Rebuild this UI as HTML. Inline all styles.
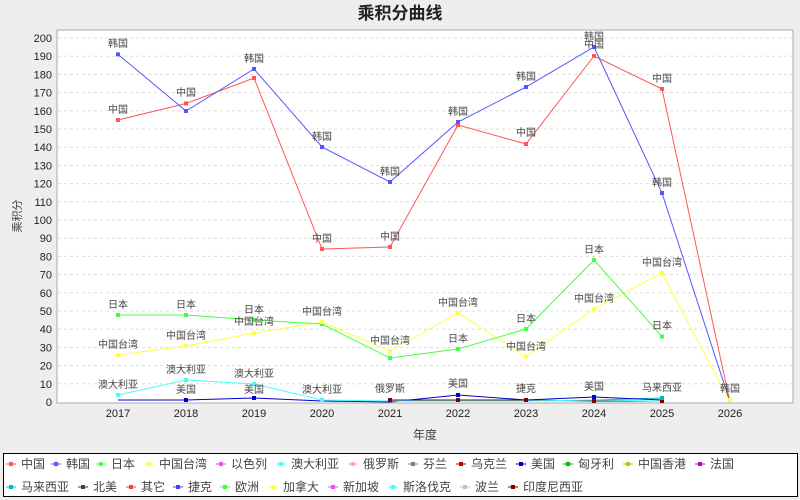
<!DOCTYPE html>
<html><head><meta charset="utf-8"><style>
body{margin:0;background:#eeeeee;}
svg{display:block;font-family:"Liberation Sans","Noto Sans CJK SC",sans-serif;}
</style></head><body>
<svg width="800" height="500" viewBox="0 0 800 500">
<rect width="800" height="500" fill="#eeeeee"/>
<text x="400" y="19" text-anchor="middle" font-size="17" font-weight="bold" fill="#222">乘积分曲线</text>
<rect x="57" y="30" width="736" height="373" fill="#fff" stroke="#aaa"/>
<g stroke="#dddddd" stroke-dasharray="3,3">
<line x1="58" x2="792" y1="383.8" y2="383.8"/><line x1="58" x2="792" y1="365.6" y2="365.6"/><line x1="58" x2="792" y1="347.4" y2="347.4"/><line x1="58" x2="792" y1="329.2" y2="329.2"/><line x1="58" x2="792" y1="311" y2="311"/><line x1="58" x2="792" y1="292.8" y2="292.8"/><line x1="58" x2="792" y1="274.6" y2="274.6"/><line x1="58" x2="792" y1="256.4" y2="256.4"/><line x1="58" x2="792" y1="238.2" y2="238.2"/><line x1="58" x2="792" y1="220" y2="220"/><line x1="58" x2="792" y1="201.8" y2="201.8"/><line x1="58" x2="792" y1="183.6" y2="183.6"/><line x1="58" x2="792" y1="165.4" y2="165.4"/><line x1="58" x2="792" y1="147.2" y2="147.2"/><line x1="58" x2="792" y1="129" y2="129"/><line x1="58" x2="792" y1="110.8" y2="110.8"/><line x1="58" x2="792" y1="92.6" y2="92.6"/><line x1="58" x2="792" y1="74.4" y2="74.4"/><line x1="58" x2="792" y1="56.2" y2="56.2"/><line x1="58" x2="792" y1="38" y2="38"/>
</g>
<g font-size="11" fill="#222" text-anchor="end">
<text x="52" y="406">0</text><text x="52" y="388">10</text><text x="52" y="369.5">20</text><text x="52" y="351.5">30</text><text x="52" y="333">40</text><text x="52" y="315">50</text><text x="52" y="297">60</text><text x="52" y="278.5">70</text><text x="52" y="260.5">80</text><text x="52" y="242">90</text><text x="52" y="224">100</text><text x="52" y="206">110</text><text x="52" y="187.5">120</text><text x="52" y="169.5">130</text><text x="52" y="151">140</text><text x="52" y="133">150</text><text x="52" y="115">160</text><text x="52" y="96.5">170</text><text x="52" y="78.5">180</text><text x="52" y="60">190</text><text x="52" y="42">200</text>
</g>
<g font-size="11" fill="#222" text-anchor="middle">
<text x="118" y="417">2017</text><text x="186" y="417">2018</text><text x="254" y="417">2019</text><text x="322" y="417">2020</text><text x="390" y="417">2021</text><text x="458" y="417">2022</text><text x="526" y="417">2023</text><text x="594" y="417">2024</text><text x="662" y="417">2025</text><text x="730" y="417">2026</text>
</g>
<text x="425" y="439" text-anchor="middle" font-size="12" fill="#444">年度</text>
<text transform="translate(21,216) rotate(-90)" text-anchor="middle" font-size="11" fill="#444">乘积分</text>
<g fill="none" stroke-width="1">
<polyline stroke="#800000" points="390,400 458,400 526,400 594,401 662,401"/>
<polyline stroke="#00bbbb" points="594,400 662,398"/>
<polyline stroke="#0000cc" points="118,400 186,400 254,398 322,401 390,402 458,395 526,400 594,397 662,400"/>
<polyline stroke="#44ffff" points="118,395 186,380 254,384 322,400 390,401 458,401 526,401 594,400 662,401"/>
<polyline stroke="#ffff44" points="118,355 186,346 254,333 322,322 390,351 458,313 526,356.5 594,309 662,273 730,402"/>
<polyline stroke="#44ff44" points="118,315 186,315 254,320 322,324 390,358 458,349 526,329 594,260 662,336.5"/>
<polyline stroke="#ff5555" points="118,120 186,103.5 254,78 322,249 390,247 458,125 526,144 594,56 662,89 730,402"/>
<polyline stroke="#5555ff" points="118,54.4 186,111 254,69 322,147 390,182 458,122 526,87 594,47 662,193 730,402"/>
</g>
<g fill="#ff5555"><rect x="116" y="118" width="4" height="4"/><rect x="184" y="101.5" width="4" height="4"/><rect x="252" y="76" width="4" height="4"/><rect x="320" y="247" width="4" height="4"/><rect x="388" y="245" width="4" height="4"/><rect x="456" y="123" width="4" height="4"/><rect x="524" y="142" width="4" height="4"/><rect x="592" y="54" width="4" height="4"/><rect x="660" y="87" width="4" height="4"/></g>
<g fill="#5555ff"><rect x="116" y="52.4" width="4" height="4"/><rect x="184" y="109" width="4" height="4"/><rect x="252" y="67" width="4" height="4"/><rect x="320" y="145" width="4" height="4"/><rect x="388" y="180" width="4" height="4"/><rect x="456" y="120" width="4" height="4"/><rect x="524" y="85" width="4" height="4"/><rect x="592" y="45" width="4" height="4"/><rect x="660" y="191" width="4" height="4"/></g>
<g fill="#44ff44"><rect x="116" y="313" width="4" height="4"/><rect x="184" y="313" width="4" height="4"/><rect x="252" y="318" width="4" height="4"/><rect x="320" y="322" width="4" height="4"/><rect x="388" y="356" width="4" height="4"/><rect x="456" y="347" width="4" height="4"/><rect x="524" y="327" width="4" height="4"/><rect x="592" y="258" width="4" height="4"/><rect x="660" y="334.5" width="4" height="4"/></g>
<g fill="#ffff44"><rect x="116" y="353" width="4" height="4"/><rect x="184" y="344" width="4" height="4"/><rect x="252" y="331" width="4" height="4"/><rect x="320" y="320" width="4" height="4"/><rect x="388" y="349" width="4" height="4"/><rect x="456" y="311" width="4" height="4"/><rect x="524" y="354.5" width="4" height="4"/><rect x="592" y="307" width="4" height="4"/><rect x="660" y="271" width="4" height="4"/><rect x="728" y="398" width="4" height="4"/></g>
<g fill="#44ffff"><rect x="116" y="393" width="4" height="4"/><rect x="184" y="378" width="4" height="4"/><rect x="252" y="382" width="4" height="4"/><rect x="320" y="398" width="4" height="4"/></g>
<g fill="#0000cc"><rect x="184" y="398" width="4" height="4"/><rect x="252" y="396" width="4" height="4"/><rect x="456" y="393" width="4" height="4"/><rect x="592" y="395" width="4" height="4"/></g>
<g fill="#800000"><rect x="388" y="398" width="4" height="4"/><rect x="456" y="398" width="4" height="4"/><rect x="524" y="398" width="4" height="4"/><rect x="592" y="399" width="4" height="4"/><rect x="660" y="399" width="4" height="4"/></g>
<rect x="660" y="396" width="4" height="4" fill="#00bbbb"/>
<g font-size="10" fill="#444" text-anchor="middle">
<text x="118" y="47">韩国</text><text x="254" y="62">韩国</text><text x="322" y="140">韩国</text><text x="390" y="175">韩国</text><text x="458" y="115">韩国</text><text x="526" y="80">韩国</text><text x="594" y="40">韩国</text><text x="662" y="186">韩国</text><text x="730" y="392">韩国</text>
<text x="118" y="113">中国</text><text x="186" y="96">中国</text><text x="322" y="242">中国</text><text x="390" y="240">中国</text><text x="526" y="136">中国</text><text x="594" y="48">中国</text><text x="662" y="82">中国</text>
<text x="118" y="308">日本</text><text x="186" y="308">日本</text><text x="254" y="313">日本</text><text x="458" y="342">日本</text><text x="526" y="322">日本</text><text x="594" y="253">日本</text><text x="662" y="329">日本</text>
<text x="118" y="348">中国台湾</text><text x="186" y="339">中国台湾</text><text x="254" y="325">中国台湾</text><text x="322" y="315">中国台湾</text><text x="390" y="344">中国台湾</text><text x="458" y="306">中国台湾</text><text x="526" y="350">中国台湾</text><text x="594" y="302">中国台湾</text><text x="662" y="266">中国台湾</text>
<text x="118" y="388">澳大利亚</text><text x="186" y="373">澳大利亚</text><text x="254" y="377">澳大利亚</text><text x="322" y="393">澳大利亚</text>
<text x="186" y="393">美国</text><text x="254" y="393">美国</text><text x="458" y="387">美国</text><text x="594" y="390">美国</text>
<text x="390" y="392">俄罗斯</text><text x="526" y="392">捷克</text><text x="662" y="391">马来西亚</text>
</g>
<rect x="3.5" y="453.5" width="794" height="43" fill="#fff" stroke="#000"/>
<g font-size="12" fill="#444">
<g transform="translate(6,464)"><line x1="0" x2="10" y1="0" y2="0" stroke="#ff5555"/><rect x="3" y="-2" width="4" height="4" fill="#ff5555"/><text x="15" y="4">中国</text></g>
<g transform="translate(51,464)"><line x1="0" x2="10" stroke="#5555ff"/><rect x="3" y="-2" width="4" height="4" fill="#5555ff"/><text x="15" y="4">韩国</text></g>
<g transform="translate(96,464)"><line x1="0" x2="10" stroke="#44ff44"/><rect x="3" y="-2" width="4" height="4" fill="#44ff44"/><text x="15" y="4">日本</text></g>
<g transform="translate(144,464)"><line x1="0" x2="10" stroke="#ffff44"/><rect x="3" y="-2" width="4" height="4" fill="#ffff44"/><text x="15" y="4">中国台湾</text></g>
<g transform="translate(216,464)"><line x1="0" x2="10" stroke="#ff44ff"/><rect x="3" y="-2" width="4" height="4" fill="#ff44ff"/><text x="15" y="4">以色列</text></g>
<g transform="translate(276,464)"><line x1="0" x2="10" stroke="#44ffff"/><rect x="3" y="-2" width="4" height="4" fill="#44ffff"/><text x="15" y="4">澳大利亚</text></g>
<g transform="translate(348,464)"><line x1="0" x2="10" stroke="#ffaaaa"/><rect x="3" y="-2" width="4" height="4" fill="#ffaaaa"/><text x="15" y="4">俄罗斯</text></g>
<g transform="translate(408,464)"><line x1="0" x2="10" stroke="#808080"/><rect x="3" y="-2" width="4" height="4" fill="#808080"/><text x="15" y="4">芬兰</text></g>
<g transform="translate(456,464)"><line x1="0" x2="10" stroke="#c00000"/><rect x="3" y="-2" width="4" height="4" fill="#c00000"/><text x="15" y="4">乌克兰</text></g>
<g transform="translate(516,464)"><line x1="0" x2="10" stroke="#0000c0"/><rect x="3" y="-2" width="4" height="4" fill="#0000c0"/><text x="15" y="4">美国</text></g>
<g transform="translate(563,464)"><line x1="0" x2="10" stroke="#00c000"/><rect x="3" y="-2" width="4" height="4" fill="#00c000"/><text x="15" y="4">匈牙利</text></g>
<g transform="translate(623,464)"><line x1="0" x2="10" stroke="#c0c000"/><rect x="3" y="-2" width="4" height="4" fill="#c0c000"/><text x="15" y="4">中国香港</text></g>
<g transform="translate(695,464)"><line x1="0" x2="10" stroke="#c000c0"/><rect x="3" y="-2" width="4" height="4" fill="#c000c0"/><text x="15" y="4">法国</text></g>
<g transform="translate(6,487)"><line x1="0" x2="10" stroke="#00c0c0"/><rect x="3" y="-2" width="4" height="4" fill="#00c0c0"/><text x="15" y="4">马来西亚</text></g>
<g transform="translate(78,487)"><line x1="0" x2="10" stroke="#404040"/><rect x="3" y="-2" width="4" height="4" fill="#404040"/><text x="15" y="4">北美</text></g>
<g transform="translate(126,487)"><line x1="0" x2="10" stroke="#ff4040"/><rect x="3" y="-2" width="4" height="4" fill="#ff4040"/><text x="15" y="4">其它</text></g>
<g transform="translate(173,487)"><line x1="0" x2="10" stroke="#4040ff"/><rect x="3" y="-2" width="4" height="4" fill="#4040ff"/><text x="15" y="4">捷克</text></g>
<g transform="translate(220,487)"><line x1="0" x2="10" stroke="#40ff40"/><rect x="3" y="-2" width="4" height="4" fill="#40ff40"/><text x="15" y="4">欧洲</text></g>
<g transform="translate(268,487)"><line x1="0" x2="10" stroke="#ffff40"/><rect x="3" y="-2" width="4" height="4" fill="#ffff40"/><text x="15" y="4">加拿大</text></g>
<g transform="translate(328,487)"><line x1="0" x2="10" stroke="#ff40ff"/><rect x="3" y="-2" width="4" height="4" fill="#ff40ff"/><text x="15" y="4">新加坡</text></g>
<g transform="translate(388,487)"><line x1="0" x2="10" stroke="#40ffff"/><rect x="3" y="-2" width="4" height="4" fill="#40ffff"/><text x="15" y="4">斯洛伐克</text></g>
<g transform="translate(460,487)"><line x1="0" x2="10" stroke="#c0c0c0"/><rect x="3" y="-2" width="4" height="4" fill="#c0c0c0"/><text x="15" y="4">波兰</text></g>
<g transform="translate(508,487)"><line x1="0" x2="10" stroke="#800000"/><rect x="3" y="-2" width="4" height="4" fill="#800000"/><text x="15" y="4">印度尼西亚</text></g>
</g>
</svg>
</body></html>
